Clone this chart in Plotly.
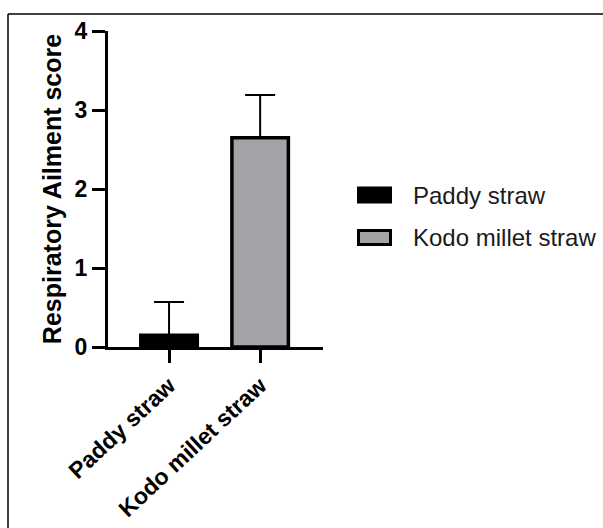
import plotly.graph_objects as go

# ---- data ----
categories = ["Paddy straw", "Kodo millet straw"]
means = [0.15, 2.65]
errors = [0.42, 0.54]
bar_colors = ["#000000", "#a3a2a7"]
y_ticks = [0, 1, 2, 3, 4]
y_title = "Respiratory Ailment score"

W, H = 603, 528
L, R, T, B = 108, 280, 31, 181
PW, PH = W - L - R, H - T - B


def px_x(px):
    return (px - L) / PW


def px_y(py):
    return (H - B - py) / PH


FONT = "Liberation Sans, Arial, sans-serif"

fig = go.Figure()
fig.add_trace(go.Bar(
    x=categories,
    y=means,
    width=0.62,
    marker=dict(color=bar_colors, line=dict(color="black", width=3.5)),
    error_y=dict(type="data", symmetric=False, array=errors,
                 arrayminus=[0] * len(errors), width=15, thickness=2,
                 color="black"),
    showlegend=False,
))

fig.update_layout(
    width=W, height=H,
    margin=dict(l=L, r=R, t=T, b=B, autoexpand=False),
    paper_bgcolor="white", plot_bgcolor="white",
    font=dict(family=FONT, color="black"),
    xaxis=dict(
        type="category", range=[-0.67, 1.69],
        showline=True, linecolor="black", linewidth=3,
        ticks="outside", ticklen=13, tickwidth=2.5, tickcolor="black",
        tickangle=-43, showgrid=False, zeroline=False, automargin=False,
        tickfont=dict(family=FONT, size=23, color="black", weight="bold"),
    ),
    yaxis=dict(
        range=[0, 4], tickvals=y_ticks,
        showline=True, linecolor="black", linewidth=3,
        ticks="outside", ticklen=13, tickwidth=2.5, tickcolor="black",
        showgrid=False, zeroline=False, automargin=False,
        tickfont=dict(family=FONT, size=23, color="black", weight="bold"),
        title=dict(text=y_title, standoff=6,
                   font=dict(family=FONT, size=25, color="black", weight="bold")),
    ),
)

# outer frame (top and left edges visible)
fig.add_shape(type="line", xref="paper", yref="paper",
              x0=px_x(8), x1=px_x(610), y0=px_y(14), y1=px_y(14),
              line=dict(color="black", width=1.5))
fig.add_shape(type="line", xref="paper", yref="paper",
              x0=px_x(8), x1=px_x(8), y0=px_y(14), y1=px_y(540),
              line=dict(color="black", width=1.5))

# legend
leg_rows = [195, 237.5]
for cy, name, col in zip(leg_rows, categories, bar_colors):
    fig.add_shape(type="rect", xref="paper", yref="paper",
                  x0=px_x(358.5), x1=px_x(390.5),
                  y0=px_y(cy - 7), y1=px_y(cy + 7),
                  fillcolor=col, line=dict(color="black", width=3))
    fig.add_annotation(xref="paper", yref="paper", x=px_x(411), y=px_y(cy),
                       text=name, showarrow=False, xanchor="left",
                       yanchor="middle",
                       font=dict(family=FONT, size=24, color="#1a1a1a"))

fig.write_html(
    "out.html",
    config={"displayModeBar": False},
    post_script="document.body.style.margin='0';document.body.style.overflow='hidden';",
)
